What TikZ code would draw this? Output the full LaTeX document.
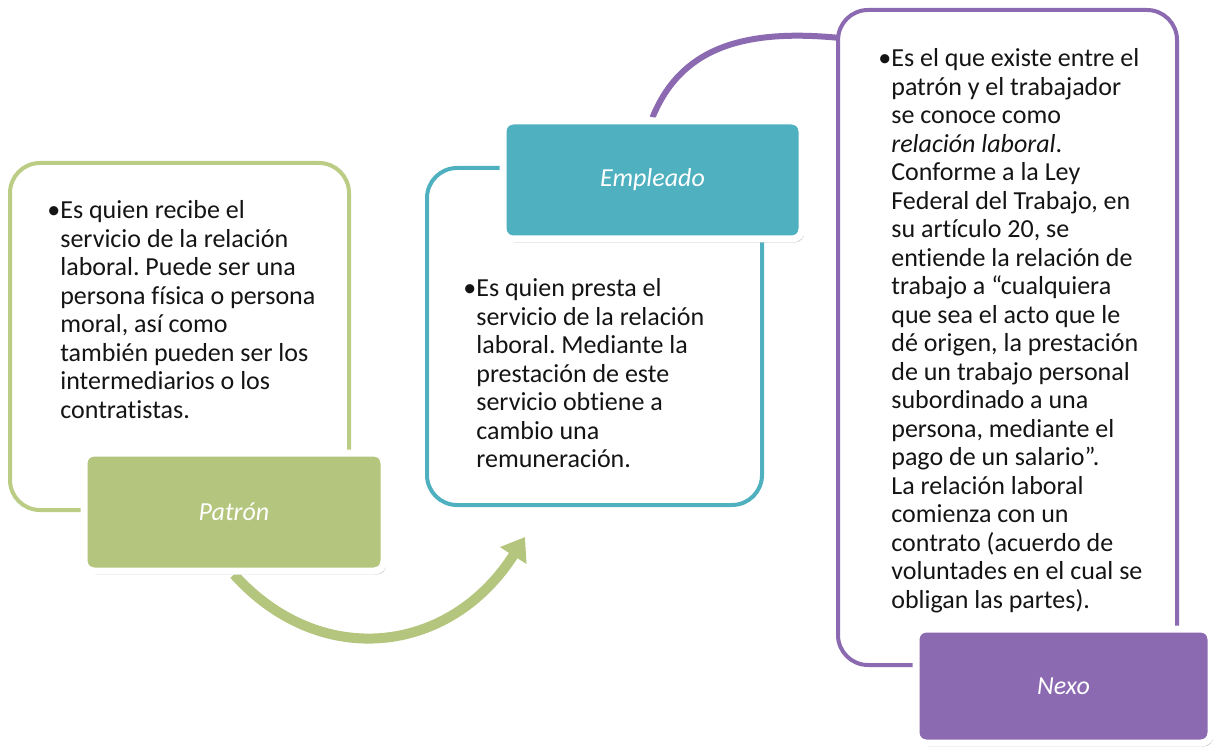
\documentclass[tikz,border=0pt]{standalone}
\usepackage{fontspec}
\setmainfont{Carlito}[Ligatures=NoCommon]
\usetikzlibrary{shadows,arrows.meta,backgrounds}
\definecolor{patrongreen}{RGB}{180,197,125}
\definecolor{patronline}{RGB}{187,204,133}
\definecolor{empleadoteal}{RGB}{79,176,192}
\definecolor{nexopurple}{RGB}{139,106,177}
\definecolor{textgray}{RGB}{20,20,20}
\tikzset{
  outlinebox/.style={draw=#1, line width=2pt, rounded corners=15pt, inner sep=0pt},
  labelbox/.style={fill=#1, draw=white, line width=3.5pt, rounded corners=5pt,
    drop shadow={shadow xshift=1.2pt, shadow yshift=-1.8pt, opacity=0.4},
    text=white, font=\fontsize{13}{15}\selectfont\itshape},
  bodytext/.style={anchor=base west, inner sep=0pt, text=textgray,
    font=\fontsize{13}{14.25}\selectfont}
}
\frenchspacing
\begin{document}
\begin{tikzpicture}[x=0.5pt, y=-0.5pt]
        \useasboundingbox (0,0) rectangle (1215,748);
        % outline boxes
        \node[outlinebox=patronline, minimum width=169.5pt, minimum height=173.5pt] (patronline) at (179.5,336.5) {};
        \node[outlinebox=empleadoteal, minimum width=167.5pt, minimum height=168.5pt] (empleadoline) at (594.5,336.5) {};
        \node[outlinebox=nexopurple, minimum width=169.5pt, minimum height=327.5pt] (nexoline) at (1007.5,337.5) {};
        % body texts
        \node[bodytext] (patrontext) at (47,219) {•\begin{tabular}[t]{@{}l@{}}
                Es quien recibe el\\ servicio de la relación\\ laboral. Puede ser una\\
                persona física o persona\\ moral, así como\\ también pueden ser los\\
                intermediarios o los\\ contratistas.\end{tabular}};
        \node[bodytext] (empleadotext) at (463,297) {•\begin{tabular}[t]{@{}l@{}}
                Es quien presta el\\ servicio de la relación\\ laboral. Mediante la\\
                prestación de este\\ servicio obtiene a\\ cambio una\\ remuneración.\end{tabular}};
        \node[bodytext] (nexotext) at (878,67) {•\begin{tabular}[t]{@{}l@{}}
                Es el que existe entre el\\ patrón y el trabajador\\ se conoce como\\
                \textit{relación laboral}.\\ Conforme a la Ley\\ Federal del Trabajo, en\\
                su artículo 20, se\\ entiende la relación de\\ trabajo a “cualquiera\\
                que sea el acto que le\\ dé origen, la prestación\\ de un trabajo personal\\
                subordinado a una\\ persona, mediante el\\ pago de un salario”.\\
                La relación laboral\\ comienza con un\\ contrato (acuerdo de\\
                voluntades en el cual se\\ obligan las partes).\end{tabular}};
        % label boxes
        \node[labelbox=patrongreen, minimum width=150pt, minimum height=59pt] (patron) at (234,512) {Patrón};
        \node[labelbox=empleadoteal, minimum width=149.5pt, minimum height=59pt] (empleado) at (652.5,180) {Empleado};
        \node[labelbox=nexopurple, minimum width=147.5pt, minimum height=57pt] (nexo) at (1063.5,686) {Nexo};
        % connecting arcs
        \coordinate (empleadotip) at (525,537);
        \coordinate (nexoentry) at (840,38);
        \begin{scope}[on background layer]
                \draw[patrongreen, line width=5pt, -{Triangle[width=15pt, length=11pt]}]
                        (patron.south) .. controls (320,670) and (450,655) .. (empleadotip);
                \draw[nexopurple, line width=3pt]
                        (empleado.north) .. controls (680,50) and (740,28) .. (nexoentry);
        \end{scope}
\end{tikzpicture}
\end{document}
